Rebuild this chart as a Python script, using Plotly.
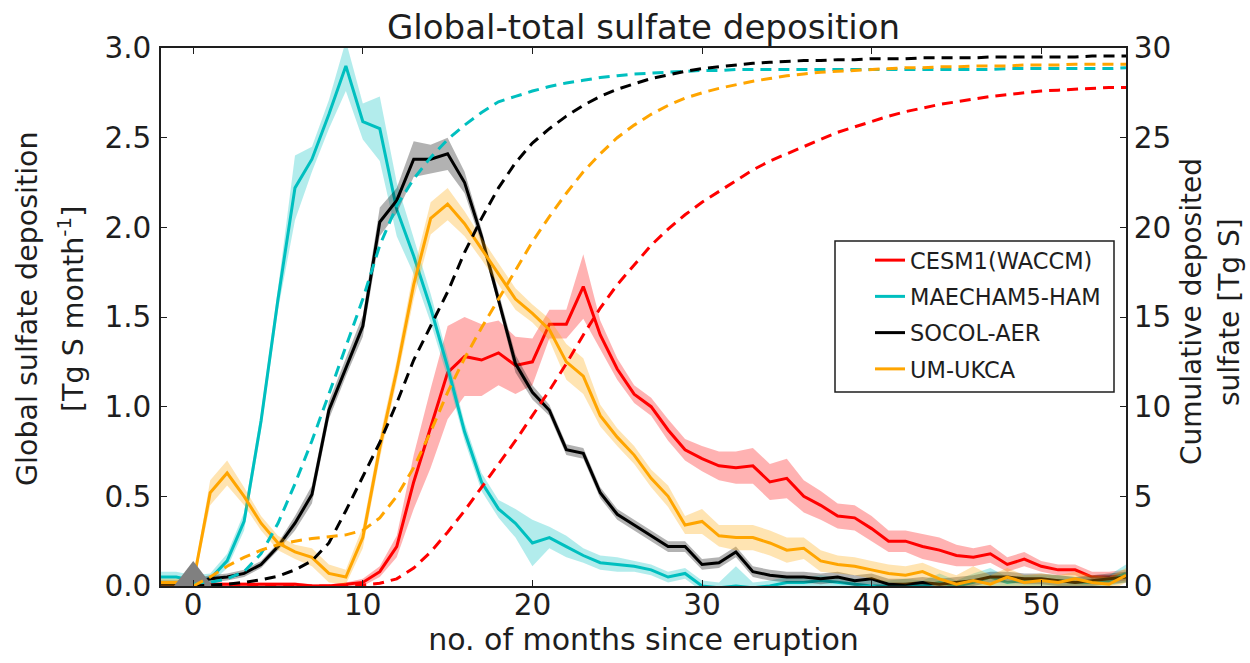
import plotly.graph_objects as go

# ---------------- data ----------------
months = list(range(-2, 56))          # monthly deposition (left axis)
cum_months = list(range(0, 56))       # cumulative deposition (right axis)

cesm_mean = [0.01, 0.01, 0.01, 0.01, 0.01, 0.01, 0.01, 0.01, 0.01, 0.0, 0.0, 0.01,
             0.02, 0.08, 0.22, 0.58, 0.88, 1.19, 1.28, 1.26, 1.30, 1.23, 1.25, 1.46,
             1.46, 1.67, 1.40, 1.21, 1.07, 1.00, 0.87, 0.76, 0.71, 0.67, 0.66, 0.67,
             0.58, 0.60, 0.50, 0.45, 0.39, 0.38, 0.32, 0.25, 0.25, 0.22, 0.20, 0.17,
             0.16, 0.18, 0.12, 0.15, 0.11, 0.09, 0.09, 0.05, 0.05, 0.06]
cesm_spread = [0.01, 0.01, 0.01, 0.01, 0.01, 0.01, 0.01, 0.01, 0.01, 0.01, 0.01, 0.01,
               0.02, 0.03, 0.06, 0.15, 0.22, 0.26, 0.22, 0.20, 0.18, 0.16, 0.13, 0.08,
               0.08, 0.18, 0.08, 0.06, 0.05, 0.05, 0.06, 0.06, 0.07, 0.08, 0.09, 0.10,
               0.10, 0.11, 0.09, 0.08, 0.07, 0.07, 0.07, 0.06, 0.06, 0.07, 0.07, 0.06,
               0.05, 0.05, 0.04, 0.04, 0.03, 0.03, 0.03, 0.03, 0.03, 0.03]

maecham_mean = [0.05, 0.05, 0.03, 0.04, 0.14, 0.36, 0.92, 1.60, 2.22, 2.38, 2.63, 2.90,
                2.59, 2.55, 2.10, 1.84, 1.55, 1.22, 0.86, 0.58, 0.43, 0.35, 0.24, 0.27,
                0.22, 0.17, 0.13, 0.12, 0.11, 0.09, 0.05, 0.07, 0.0, -0.01, 0.0, -0.01,
                0.0, 0.02, 0.02, 0.03, 0.02, 0.01, 0.0, 0.0, 0.01, 0.0, 0.02, 0.0,
                0.02, 0.05, 0.02, 0.03, 0.03, 0.03, 0.02, 0.02, 0.03, 0.07]
maecham_spread = [0.03, 0.03, 0.03, 0.03, 0.04, 0.05, 0.05, 0.06, 0.18, 0.07, 0.08, 0.14,
                  0.10, 0.18, 0.15, 0.10, 0.08, 0.06, 0.05, 0.05, 0.05, 0.08, 0.13, 0.06,
                  0.06, 0.04, 0.04, 0.04, 0.03, 0.03, 0.03, 0.03, 0.03, 0.03, 0.11, 0.03,
                  0.03, 0.03, 0.03, 0.03, 0.03, 0.03, 0.03, 0.03, 0.03, 0.03, 0.05, 0.03,
                  0.05, 0.05, 0.03, 0.03, 0.03, 0.03, 0.03, 0.03, 0.03, 0.05]

socol_mean = [0.01, 0.01, 0.02, 0.04, 0.05, 0.07, 0.12, 0.22, 0.35, 0.51, 0.98, 1.22,
              1.45, 2.03, 2.15, 2.38, 2.38, 2.41, 2.25, 1.95, 1.60, 1.24, 1.08, 0.98,
              0.76, 0.74, 0.52, 0.40, 0.34, 0.28, 0.22, 0.22, 0.12, 0.13, 0.19, 0.08,
              0.06, 0.05, 0.05, 0.04, 0.05, 0.03, 0.04, 0.01, 0.01, 0.02, 0.01, 0.02,
              0.03, 0.05, 0.05, 0.04, 0.04, 0.03, 0.02, 0.03, 0.04, 0.05]
socol_spread = [0.02, 0.02, 0.02, 0.02, 0.02, 0.02, 0.02, 0.02, 0.04, 0.05, 0.05, 0.05,
                0.06, 0.08, 0.07, 0.10, 0.08, 0.09, 0.06, 0.04, 0.04, 0.05, 0.04, 0.03,
                0.03, 0.03, 0.03, 0.03, 0.03, 0.03, 0.03, 0.03, 0.03, 0.03, 0.03, 0.03,
                0.03, 0.03, 0.03, 0.03, 0.03, 0.03, 0.03, 0.03, 0.03, 0.03, 0.03, 0.03,
                0.03, 0.03, 0.03, 0.03, 0.03, 0.03, 0.03, 0.03, 0.03, 0.03]

ukca_mean = [0.02, 0.02, 0.02, 0.52, 0.63, 0.50, 0.35, 0.24, 0.19, 0.16, 0.07, 0.05,
             0.27, 0.77, 1.20, 1.68, 2.05, 2.13, 2.02, 1.88, 1.74, 1.60, 1.52, 1.43,
             1.25, 1.17, 0.95, 0.83, 0.73, 0.60, 0.50, 0.34, 0.36, 0.28, 0.27, 0.27,
             0.24, 0.20, 0.21, 0.14, 0.12, 0.11, 0.09, 0.07, 0.06, 0.08, 0.04, 0.01,
             0.03, 0.01, 0.05, 0.02, 0.03, 0.02, 0.04, 0.02, 0.01, 0.06]
ukca_spread = [0.02, 0.02, 0.02, 0.07, 0.07, 0.05, 0.04, 0.04, 0.04, 0.05, 0.05, 0.04,
               0.06, 0.06, 0.06, 0.08, 0.09, 0.09, 0.07, 0.06, 0.06, 0.06, 0.05, 0.06,
               0.10, 0.10, 0.06, 0.05, 0.05, 0.05, 0.06, 0.05, 0.07, 0.06, 0.07, 0.07,
               0.07, 0.07, 0.06, 0.06, 0.05, 0.05, 0.05, 0.05, 0.05, 0.05, 0.05, 0.05,
               0.08, 0.05, 0.05, 0.04, 0.04, 0.04, 0.04, 0.04, 0.04, 0.04]

cesm_cum = [0.0, 0.0, 0.0, 0.0, 0.0, 0.0, 0.0, 0.0, 0.0, 0.0,
            0.05, 0.15, 0.4, 1.0, 1.9, 3.0, 4.2, 5.5, 6.8, 8.1,
            9.5, 10.9, 12.4, 14.0, 15.5, 16.8, 17.9, 19.0, 19.9, 20.7,
            21.4, 22.0, 22.6, 23.2, 23.7, 24.1, 24.5, 24.9, 25.3, 25.6,
            25.9, 26.2, 26.45, 26.65, 26.85, 27.0, 27.15, 27.3, 27.4, 27.5,
            27.6, 27.65, 27.7, 27.75, 27.8, 27.8]
maecham_cum = [0.1, 0.2, 0.4, 0.8, 1.8, 3.5, 5.7, 8.1, 10.7, 13.4,
               16.0, 19.0, 21.2, 22.7, 23.9, 24.9, 25.7, 26.4, 27.0, 27.3,
               27.6, 27.85, 28.05, 28.2, 28.35, 28.45, 28.55, 28.6, 28.65, 28.7,
               28.75, 28.75, 28.8, 28.8, 28.8, 28.8, 28.8, 28.8, 28.8, 28.8,
               28.8, 28.8, 28.8, 28.8, 28.8, 28.8, 28.8, 28.8, 28.85, 28.85,
               28.85, 28.85, 28.85, 28.85, 28.85, 28.9]
socol_cum = [0.0, 0.05, 0.1, 0.2, 0.35, 0.55, 0.9, 1.4, 2.4, 4.2,
             6.1, 8.0, 10.2, 12.6, 14.5, 16.4, 18.6, 20.5, 22.2, 23.6,
             24.7, 25.5, 26.2, 26.8, 27.3, 27.7, 28.0, 28.3, 28.5, 28.7,
             28.85, 28.95, 29.05, 29.15, 29.2, 29.25, 29.3, 29.3, 29.35, 29.35,
             29.4, 29.4, 29.4, 29.45, 29.45, 29.45, 29.45, 29.5, 29.5, 29.5,
             29.5, 29.5, 29.5, 29.55, 29.55, 29.55]
ukca_cum = [0.0, 0.5, 1.1, 1.6, 2.0, 2.3, 2.5, 2.65, 2.75, 2.85,
            3.1, 3.8, 5.0, 6.6, 8.6, 10.8, 12.7, 14.4, 16.0, 17.6,
            19.2, 20.6, 21.9, 23.1, 24.1, 25.0, 25.7, 26.3, 26.8, 27.2,
            27.5, 27.75, 27.95, 28.15, 28.3, 28.45, 28.55, 28.65, 28.7, 28.75,
            28.8, 28.85, 28.9, 28.9, 28.95, 28.95, 29.0, 29.0, 29.0, 29.05,
            29.05, 29.05, 29.1, 29.1, 29.1, 29.1]

model_names = ["CESM1(WACCM)", "MAECHAM5-HAM", "SOCOL-AER", "UM-UKCA"]
eruption_month = [0]
eruption_marker_y = [0]

x_ticks = [0, 10, 20, 30, 40, 50]
y_ticks = [0.0, 0.5, 1.0, 1.5, 2.0, 2.5, 3.0]
y2_ticks = [0, 5, 10, 15, 20, 25, 30]

title_text = "Global-total sulfate deposition"
x_title = "no. of months since eruption"
y_title_lines = ["Global sulfate deposition", "[Tg S month<sup>-1</sup>]"]
y2_title_lines = ["Cumulative deposited", "sulfate [Tg S]"]

# ---------------- styles ----------------
line_colors = ["#ff0000", "#00bfbf", "#000000", "#ffa500"]
band_colors = ["rgba(255,0,0,0.3)", "rgba(0,191,191,0.3)",
               "rgba(0,0,0,0.3)", "rgba(255,165,0,0.3)"]
TXT = "#1e1e1e"
FONT = "DejaVu Sans"

means = [cesm_mean, maecham_mean, socol_mean, ukca_mean]
spreads = [cesm_spread, maecham_spread, socol_spread, ukca_spread]
cums = [cesm_cum, maecham_cum, socol_cum, ukca_cum]

fig = go.Figure()

for name, mean, spr, lc, bc in zip(model_names, means, spreads, line_colors, band_colors):
    lo = [m - s for m, s in zip(mean, spr)]
    hi = [m + s for m, s in zip(mean, spr)]
    fig.add_trace(go.Scatter(x=months, y=lo, mode="lines", line=dict(width=0, color=bc),
                             showlegend=False, hoverinfo="skip", legendgroup=name))
    fig.add_trace(go.Scatter(x=months, y=hi, mode="lines", line=dict(width=0, color=bc),
                             fill="tonexty", fillcolor=bc, showlegend=False,
                             hoverinfo="skip", legendgroup=name))
    fig.add_trace(go.Scatter(x=months, y=mean, mode="lines", name=name,
                             line=dict(color=lc, width=3), legendgroup=name))

fig.add_trace(go.Scatter(x=eruption_month, y=eruption_marker_y, mode="markers",
                         marker=dict(symbol="triangle-up", size=50, color="#808080",
                                     line=dict(width=0)),
                         showlegend=False, hoverinfo="skip"))

for name, cum, lc in zip(model_names, cums, line_colors):
    fig.add_trace(go.Scatter(x=cum_months, y=cum, mode="lines", yaxis="y2",
                             line=dict(color=lc, width=3, dash="11px,7px"),
                             showlegend=False, legendgroup=name))

W, H = 1250, 663
L, R, T, B = 161, 124, 48, 77
pw, ph = W - L - R, H - T - B


def px_x(px):
    return (px - L) / pw


def px_y(py):
    return (H - B - py) / ph


axis_common = dict(showgrid=False, zeroline=False, showline=True, linecolor=TXT,
                   linewidth=1.5, ticks="inside", ticklen=6, tickwidth=1.2,
                   tickcolor=TXT, tickfont=dict(size=29.5, color=TXT, family=FONT))

annotations = []
for txt, cx in zip(y_title_lines, [27, 71]):
    annotations.append(dict(text=txt, xref="paper", yref="paper", x=px_x(cx), y=px_y(309),
                            xanchor="center", yanchor="middle", textangle=-90,
                            showarrow=False, font=dict(size=28.5, color=TXT, family=FONT)))
for txt, cx in zip(y2_title_lines, [1191, 1229]):
    annotations.append(dict(text=txt, xref="paper", yref="paper", x=px_x(cx), y=px_y(312),
                            xanchor="center", yanchor="middle", textangle=-90,
                            showarrow=False, font=dict(size=28, color=TXT, family=FONT)))

fig.update_layout(
    width=W, height=H,
    margin=dict(l=L, r=R, t=T, b=B, pad=0),
    paper_bgcolor="white", plot_bgcolor="white",
    font=dict(family=FONT, size=29, color=TXT),
    title=dict(text=title_text, x=0.5, xref="paper",
               xanchor="center", y=1 - 27.5 / H, yanchor="middle",
               font=dict(size=34, color=TXT, family=FONT)),
    xaxis=dict(range=[-1.9, 55], tickvals=x_ticks, mirror="ticks", ticklabelstandoff=-8,
               title=dict(text=x_title, standoff=6, font=dict(size=30, color=TXT)),
               **axis_common),
    yaxis=dict(range=[0, 3], tickvals=y_ticks, tickformat=".1f", mirror=False,
               ticklabelstandoff=2, **axis_common),
    yaxis2=dict(range=[0, 30], tickvals=y2_ticks, overlaying="y", side="right",
                anchor="x", **axis_common),
    legend=dict(x=px_x(870), y=px_y(239), xanchor="left", yanchor="top",
                bgcolor="rgba(0,0,0,0)", borderwidth=0, traceorder="grouped",
                tracegroupgap=4, font=dict(size=22.5, color=TXT, family=FONT)),
    shapes=[dict(type="rect", xref="paper", yref="paper",
                 x0=px_x(835), x1=px_x(1114), y0=px_y(392), y1=px_y(241),
                 line=dict(color=TXT, width=1.5), fillcolor="white", layer="above")],
    annotations=annotations,
)

# remove the default 8px page margin so the figure fills the window exactly
fig.write_html("out.html", config={"displayModeBar": False},
               post_script="document.body.style.margin='0px';")
